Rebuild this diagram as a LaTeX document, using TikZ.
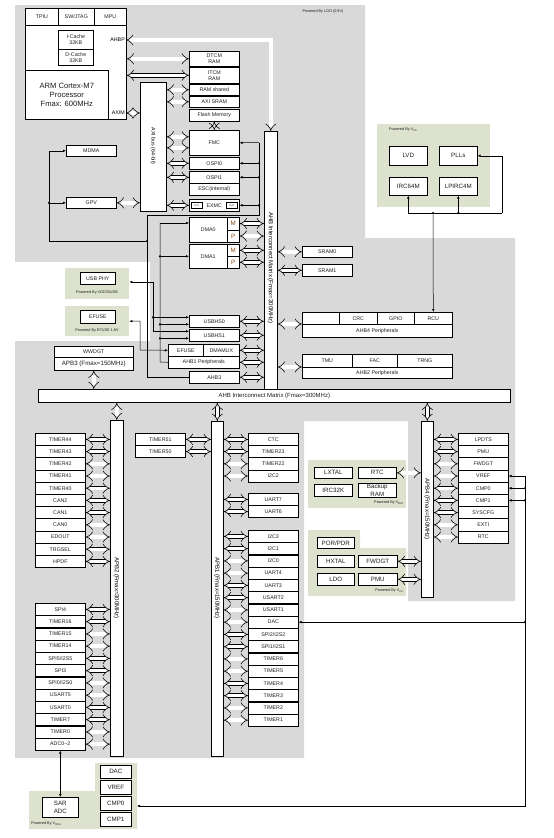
\documentclass[tikz,border=0pt]{standalone}
\usepackage{fontspec}
\setmainfont{Liberation Sans}
\usetikzlibrary{positioning, arrows.meta}

\definecolor{bggray}{HTML}{D9D9D9}
\definecolor{pwrgreen}{HTML}{DDE2CE}
\definecolor{txt}{HTML}{1E1E1E}
\definecolor{mpcol}{HTML}{8A4A14}

\newcommand{\lblfont}{\fontsize{5.3}{6.2}\selectfont}
\newcommand{\midfont}{\fontsize{6.2}{7.2}\selectfont}
\newcommand{\pwrfont}{\fontsize{3.8}{4.5}\selectfont}

\begin{document}
\begin{tikzpicture}[
    x=1pt, y=-1pt,
    box/.style={draw, fill=white, line width=0.6pt, anchor=north west, inner sep=0pt, align=center, font=\lblfont, text=txt},
    wh/.style 2 args={minimum width=#1pt, minimum height=#2pt},
    per/.style={box, wh={50}{12.2}},
    bar/.style={draw, fill=white, line width=0.6pt, anchor=north west, inner sep=0pt, text=txt},
    zone/.style={fill=pwrgreen, anchor=north west, inner sep=0pt},
    bus/.style={double, double distance=3.4pt, line width=0.55pt, {Implies[length=3.4pt, width=9pt]}-{Implies[length=3.4pt, width=9pt]}},
    sig/.style={line width=0.5pt, -{Latex[length=3pt, width=2.6pt]}},
    sigb/.style={line width=0.5pt, {Latex[length=3pt, width=2.6pt]}-{Latex[length=3pt, width=2.6pt]}},
    wire/.style={line width=0.5pt},
    dot/.style={circle, fill, inner sep=0pt, minimum size=2.4pt},
    pwr/.style={font=\pwrfont, text=txt, inner sep=0pt}
]
\useasboundingbox (0,0) rectangle (554,838);

% Power domains
\fill[bggray] (15,5) -- (365,5) -- (365,238) -- (515,238) -- (515,601) -- (408,601)
  -- (408,421) -- (304,421) -- (304,758) -- (15,758) -- cycle;
\fill[white] (15,262) rectangle (150,341);
\fill[pwrgreen] (308,530) -- (360,530) -- (360,548) -- (406,548) -- (406,596) -- (308,596) -- cycle;
\fill[pwrgreen] (29,791) -- (95,791) -- (95,763) -- (137,763) -- (137,829) -- (29,829) -- cycle;
\node[zone, wh={113}{83}] (vcczone) at (377,124) {};
\node[zone, wh={64}{31}] (usbzone) at (65,268) {};
\node[zone, wh={64}{30}] (efzone) at (65,306) {};
\node[zone, wh={98}{48}] (batzone) at (308,460) {};

\node[pwr] (ldolbl) at (323,12) {Powered By LDO (0.9V)};
\node[pwr, anchor=west] (vcclbl) at (389,130) {Powered By V\textsubscript{CC}};
\node[pwr] (usblbl) at (97,293) {Powered By VDD33USB};
\node[pwr] (eflbl) at (97,331) {Powered By EFUSE 1.8V};
\node[pwr, anchor=east] (batlbl) at (404,503) {Powered By V\textsubscript{BAT}};
\node[pwr, anchor=east] (vcc2lbl) at (404,591) {Powered By V\textsubscript{CC}};
\node[pwr, anchor=west] (vddalbl) at (31,824) {Powered By V\textsubscript{DDA}};

% CPU
\node[box, wh={101}{111}] (cpu) at (25,8) {};
\node[box, wh={33}{17}] (tpiu) at (25,8) {TPIU};
\node[box, wh={36}{17}] (swj) at (58,8) {SW/JTAG};
\node[box, wh={32}{17}] (mpu) at (94,8) {MPU};
\node[box, wh={35}{19}] (icache) at (58,30) {I-Cache\\32KB};
\node[box, wh={35}{16}] (dcache) at (58,49) {D-Cache\\32KB};
\node[box, wh={83}{49}, font=\fontsize{7.6}{9.4}\selectfont] (core) at (25,70) {ARM Cortex-M7\\Processor\\Fmax: 600MHz};
\node[font=\lblfont, anchor=east, inner sep=1pt] (ahbplbl) at (126,40) {AHBP};
\node[font=\lblfont, anchor=east, inner sep=1pt] (aximlbl) at (126,113) {AXIM};

% AXI side
\node[box, wh={50}{15}] (dtcm) at (189,51) {DTCM\\RAM};
\node[box, wh={50}{16}] (itcm) at (189,67) {ITCM\\RAM};
\node[box, wh={50}{11}] (ramsh) at (189,84) {RAM shared};
\node[box, wh={50}{11}] (axisram) at (189,96) {AXI SRAM};
\node[box, wh={50}{12}] (flash) at (189,109) {Flash Memory};
\node[box, wh={50}{25}] (fmc) at (189,130) {FMC};
\node[box, wh={50}{12}] (ospi0) at (189,157) {OSPI0};
\node[box, wh={50}{12}] (ospi1) at (189,171) {OSPI1};
\node[box, wh={50}{12}] (esc) at (189,183) {ESC(internal)};
\node[box, wh={50}{12}] (exmc) at (189,199) {EXMC};
\node[box, wh={11}{6}, font=\fontsize{2.4}{3}\selectfont] (phyl) at (191,202) {PHY};
\node[box, wh={11}{6}, font=\fontsize{2.4}{3}\selectfont] (phyr) at (226,202) {PHY};
\node[bar, wh={26}{129}] (axibus) at (140,82) {};
\node[rotate=-90, font=\lblfont] (axilbl) at (153,146) {AXI bus (64-bit)};
\node[box, wh={50}{11}] (mdma) at (66,145) {MDMA};
\node[box, wh={50}{11}] (gpv) at (66,197) {GPV};

% AHB matrix and masters
\node[bar, wh={13}{258}] (ahbm) at (264,131) {};
\node[rotate=-90, font=\fontsize{6}{7}\selectfont] (ahbmlbl) at (270.5,268) {AHB Interconnect Matrix (Fmax=300MHz)};
\node[box, wh={38}{25}] (dma0) at (189,217) {DMA0};
\node[box, wh={12}{12.5}, font=\midfont, text=mpcol] (dma0m) at (227,217) {M};
\node[box, wh={12}{12.5}, font=\midfont, text=mpcol] (dma0p) at (227,229.5) {P};
\node[box, wh={38}{24}] (dma1) at (189,244) {DMA1};
\node[box, wh={12}{12}, font=\midfont, text=mpcol] (dma1m) at (227,244) {M};
\node[box, wh={12}{12}, font=\midfont, text=mpcol] (dma1p) at (227,256) {P};
\node[box, wh={50}{12}] (usbhs0) at (189,315) {USBHS0};
\node[box, wh={50}{12}] (usbhs1) at (189,329) {USBHS1};
\node[box, wh={35}{12}] (efuseb) at (168,344) {EFUSE};
\node[box, wh={36}{12}] (dmamux) at (203,344) {DMAMUX};
\node[box, wh={71}{12}] (ahb1) at (168,356) {AHB1 Peripherals};
\node[box, wh={50}{12}] (ahb3) at (189,371) {AHB3};
\node[box, wh={35}{12}] (usbphy) at (80,272) {USB PHY};
\node[box, wh={35}{13}] (efusep) at (80,310) {EFUSE};

% AHB slaves
\node[box, wh={50}{11}] (sram0) at (302,246) {SRAM0};
\node[box, wh={50}{12}] (sram1) at (302,264) {SRAM1};
\node[box, wh={37}{12}] (ahb4x) at (302,312) {};
\node[box, wh={38}{12}] (crc) at (339,312) {CRC};
\node[box, wh={37}{12}] (gpio) at (377,312) {GPIO};
\node[box, wh={38}{12}] (rcu) at (414,312) {RCU};
\node[box, wh={150}{13}] (ahb4) at (302,324) {AHB4 Peripherals};
\node[box, wh={50}{13}] (tmu) at (302,354) {TMU};
\node[box, wh={45}{13}] (fac) at (352,354) {FAC};
\node[box, wh={55}{13}] (trng) at (397,354) {TRNG};
\node[box, wh={150}{11}] (ahb2) at (302,367) {AHB2 Peripherals};

% Clocks
\node[box, wh={38}{19}, font=\midfont] (lvd) at (389,146) {LVD};
\node[box, wh={38}{19}, font=\midfont] (plls) at (439,146) {PLLs};
\node[box, wh={38}{18}, font=\midfont] (irc64m) at (389,177) {IRC64M};
\node[box, wh={38}{18}, font=\midfont] (lpirc) at (439,177) {LPIRC4M};

% APB bridges
\node[box, wh={79}{11}] (wwdgt) at (54,346) {WWDGT};
\node[box, wh={79}{13}, font=\midfont] (apb3) at (54,357) {APB3 (Fmax=150MHz)};
\node[bar, wh={472}{13}, font=\fontsize{6}{7}\selectfont] (ahb) at (38,389) {AHB Interconnect Matrix (Fmax=300MHz)};
\node[bar, wh={13}{336}] (apb2) at (110,420) {};
\node[bar, wh={12}{335}] (apb1) at (211,421) {};
\node[bar, wh={12}{176}] (apb4) at (421,421) {};
\node[rotate=-90, font=\fontsize{6}{7}\selectfont] (apb2lbl) at (116.5,588) {APB2 (Fmax=300MHz)};
\node[rotate=-90, font=\fontsize{6}{7}\selectfont] (apb1lbl) at (217,588) {APB1 (Fmax=150MHz)};
\node[rotate=-90, font=\fontsize{6}{7}\selectfont] (apb4lbl) at (427,509) {APB4 (Fmax=150MHz)};

% Backup / power domain
\node[box, wh={38}{11}, font=\midfont] (lxtal) at (314,467) {LXTAL};
\node[box, wh={38}{11}, font=\midfont] (rtcb) at (358,467) {RTC};
\node[box, wh={38}{12}, font=\midfont] (irc32k) at (314,484) {IRC32K};
\node[box, wh={38}{14}, font=\midfont] (bkram) at (358,483) {Backup\\RAM};
\node[box, wh={37}{11}, font=\midfont] (porpdr) at (317,537) {POR/PDR};
\node[box, wh={37}{12}, font=\midfont] (hxtal) at (317,555) {HXTAL};
\node[box, wh={39}{12}, font=\midfont] (fwdgtb) at (358,555) {FWDGT};
\node[box, wh={37}{12}, font=\midfont] (ldo) at (317,573) {LDO};
\node[box, wh={39}{12}, font=\midfont] (pmub) at (358,573) {PMU};

% Analog
\node[box, wh={31}{13}, font=\midfont] (dacb) at (100,765) {DAC};
\node[box, wh={31}{14}, font=\midfont] (vrefb) at (100,780) {VREF};
\node[box, wh={31}{14}, font=\midfont] (cmp0b) at (100,796) {CMP0};
\node[box, wh={31}{14}, font=\midfont] (cmp1b) at (100,812) {CMP1};
\node[box, wh={36}{20}, font=\midfont] (sar) at (42,797) {SAR\\ADC};

% Peripherals on APB2
\foreach \lbl [count=\i] in {TIMER44, TIMER43, TIMER42, TIMER41, TIMER40, CAN2, CAN1, CAN0, EDOUT, TRGSEL, HPDF} {
  \node[per] (a2a\i) at (35,{433+12.2*(\i-1)}) {\lbl};
  \draw[bus] (a2a\i.east) -- (apb2.west |- a2a\i.east);
}
\foreach \lbl [count=\i] in {SPI4, TIMER16, TIMER15, TIMER14, SPI5/I2S5, SPI3, SPI0/I2S0, USART5, USART0, TIMER7, TIMER0, {ADC0\textasciitilde 2}} {
  \node[per] (a2b\i) at (35,{603+12.25*(\i-1)}) {\lbl};
  \draw[bus] (a2b\i.east) -- (apb2.west |- a2b\i.east);
}

% Peripherals on APB1
\foreach \lbl [count=\i] in {TIMER51, TIMER50} {
  \node[per] (a1l\i) at (135,{433+12.2*(\i-1)}) {\lbl};
  \draw[bus] (a1l\i.east) -- (apb1.west |- a1l\i.east);
}
\foreach \lbl [count=\i] in {CTC, TIMER23, TIMER22, I2C2} {
  \node[per] (a1a\i) at (248,{433+12.2*(\i-1)}) {\lbl};
  \draw[bus] (apb1.east |- a1a\i.west) -- (a1a\i.west);
}
\foreach \lbl [count=\i] in {UART7, UART6} {
  \node[per] (a1b\i) at (248,{493+12.2*(\i-1)}) {\lbl};
  \draw[bus] (apb1.east |- a1b\i.west) -- (a1b\i.west);
}
\foreach \lbl [count=\i] in {I2C3, I2C1, I2C0, UART4, UART3, USART2, USART1, DAC, SPI2/I2S2, SPI1/I2S1, TIMER6, TIMER5, TIMER4, TIMER3, TIMER2, TIMER1} {
  \node[per] (a1c\i) at (248,{530+12.25*(\i-1)}) {\lbl};
  \draw[bus] (apb1.east |- a1c\i.west) -- (a1c\i.west);
}

% Peripherals on APB4
\foreach \lbl [count=\i] in {LPDTS, PMU, FWDGT, VREF, CMP0, CMP1, SYSCFG, EXTI, RTC} {
  \node[per] (a4\i) at (458,{433+12.2*(\i-1)}) {\lbl};
  \draw[bus] (apb4.east |- a4\i.west) -- (a4\i.west);
}

% Bus arrows
\coordinate (ahbp) at (126,40);
\coordinate (axim) at (126,113);
\coordinate (fmcin1) at ([yshift=6pt]fmc.west);
\coordinate (fmcin2) at ([yshift=-5pt]fmc.west);
\draw[bus] (ahbp) -| (ahbm.north);
\draw[bus] (cpu.east |- dtcm) -- (dtcm.west);
\draw[bus] (cpu.east |- itcm) -- (itcm.west);
\draw[bus] (axim) -- (axibus.west |- axim);
\foreach \m in {ramsh, axisram, ospi0, ospi1, exmc}
  \draw[bus] (axibus.east |- \m.west) -- (\m.west);
\draw[bus] (axibus.east |- fmcin1) -- (fmcin1);
\draw[bus] (axibus.east |- fmcin2) -- (fmcin2);
\draw[bus, {Implies[length=2.5pt, width=7pt]}-{Implies[length=2.5pt, width=7pt]}] (flash.south) -- (fmc.north);
\draw[bus] (gpv.east) -- (axibus.west |- gpv.east);
\foreach \m in {dma0m, dma0p, dma1m, dma1p, usbhs0, usbhs1, dmamux, ahb1, ahb3}
  \draw[bus] (\m.east) -- (ahbm.west |- \m.east);
\draw[bus] (ahbm.east |- sram0.west) -- (sram0.west);
\draw[bus] (ahbm.east |- sram1.west) -- (sram1.west);
\draw[bus] (ahbm.east |- ahb4.north west) -- (ahb4.north west);
\draw[bus] (ahbm.east |- ahb2.north west) -- (ahb2.north west);
\draw[bus] (apb3.south) -- (apb3.south |- ahb.north);
\draw[bus] (ahb.south -| apb2.north) -- (apb2.north);
\draw[bus] (ahb.south -| apb1.north) -- (apb1.north);
\draw[bus] (ahb.south -| apb4.north) -- (apb4.north);
\draw[bus] (rtcb.east) -- (apb4.west |- rtcb.east);
\draw[bus] (fwdgtb.east) -- (apb4.west |- fwdgtb.east);
\draw[bus] (pmub.east) -- (apb4.west |- pmub.east);

% Control lines: FMC / OSPI / EXMC
\coordinate (fctl) at (259,142.5);
\coordinate (fturn) at (259,215);
\coordinate (xbus) at (147,215);
\draw[wire] (ahb3.west) -| (xbus) -- (fturn) -- (fctl);
\draw[sig] (fctl) -- (fmc.east);
\foreach \m in {ospi0, ospi1, exmc} {
  \node[dot] (dot\m) at (fctl |- \m.east) {};
  \draw[sig] (dot\m) -- (\m.east);
}

% Control lines: MDMA / GPV
\coordinate (mbot) at (49,241);
\draw[sig] (mbot) |- (mdma.west);
\node[dot] (gpvdot) at (mbot |- gpv.west) {};
\draw[sig] (gpvdot) -- (gpv.west);
\node[dot] (xdot) at (xbus |- mbot) {};
\draw[wire] (mbot) -- (xdot);

% Request lines: DMA / USB
\coordinate (rtop) at (160,223);
\coordinate (rbot) at (160,362);
\coordinate (usbin0a) at ([yshift=4pt]usbhs0.west);
\coordinate (usbin0b) at ([yshift=-3pt]usbhs0.west);
\coordinate (usbin1a) at ([yshift=4pt]usbhs1.west);
\coordinate (usbin1b) at ([yshift=-3pt]usbhs1.west);
\draw[wire] (ahb1.west) -- (rbot) -- (rtop);
\draw[sig] (rtop) -- (rtop -| dma0.west);
\node[dot] (rdot1) at (rbot |- dma1.west) {};
\draw[sig] (rdot1) -- (dma1.west);
\node[dot] (rdot2) at (rbot |- usbin0b) {};
\draw[sig] (rdot2) -- (usbin0b);
\node[dot] (rdot3) at (rbot |- usbin1b) {};
\draw[sig] (rdot3) -- (usbin1b);

\coordinate (uphy) at (153,282);
\draw[sigb] (usbzone.east |- uphy) -- (uphy) |- (usbin1a);
\node[dot] (udot) at (uphy |- usbin0a) {};
\draw[sig] (udot) -- (usbin0a);
\coordinate (ecol) at (140,350);
\draw[sigb] (efzone.east) -| (ecol) -- (efuseb.west);

% Clock lines
\coordinate (ck) at (433,213);
\coordinate (ckr) at (502,213);
\node[dot] (ckdot) at (ck) {};
\draw[sig] (ckdot) -- (rcu.north);
\draw[wire] (irc64m.south |- ck) -- (ckr);
\draw[sig] (irc64m.south |- ck) -- (irc64m.south);
\node[dot] (lpdot) at (lpirc.south |- ck) {};
\draw[sig] (lpdot) -- (lpirc.south);
\draw[sig] (ckr) |- (plls.east);

% Analog lines
\coordinate (acol) at (525,806);
\coordinate (vddain) at (137,806);
\draw[sig] (a44.east -| acol) -- (a44.east);
\draw[sig] (a44.east -| acol) -- (acol) -- (vddain);
\node[dot] (adot1) at (acol |- a45.east) {};
\draw[sig] (adot1) -- (a45.east);
\node[dot] (adot2) at (acol |- a46.east) {};
\draw[sig] (adot2) -- (a46.east);
\node[dot] (adot3) at (acol |- a1c8.east) {};
\draw[sig] (adot3) -- (a1c8.east);
\draw[sigb] (a2b12.south) -- (sar.north);

\end{tikzpicture}
\end{document}
